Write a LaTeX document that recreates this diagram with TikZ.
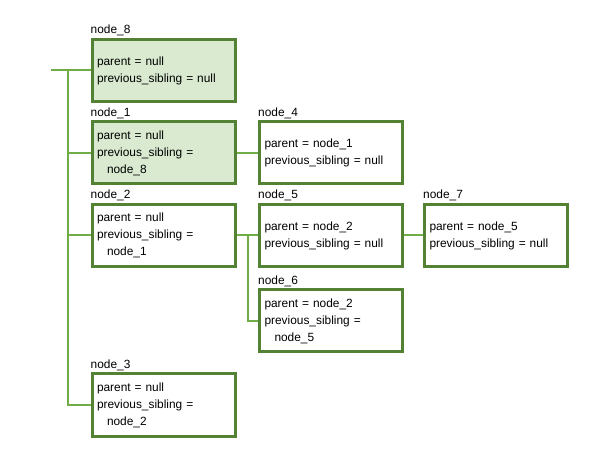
\documentclass[tikz,border=0pt]{standalone}
\usepackage{fontspec}
\setmainfont{Liberation Sans}
\begin{document}
\begin{tikzpicture}[x=1pt,y=-1pt,
  box/.style={draw=boxgreen,line width=3pt,fill=white,minimum width=143pt,minimum height=62pt,
    text width=133pt,align=left,inner xsep=5pt,inner ysep=0pt,font=\fontsize{11.9}{17}\selectfont,
    label={[anchor=south west,inner sep=0pt,yshift=1.5pt,xshift=0pt,font=\fontsize{11.9}{14}\selectfont]north west:#1}},
  filled/.style={fill=fillgreen},
  conn/.style={draw=linegreen,line width=2pt}]
\definecolor{boxgreen}{HTML}{548235}
\definecolor{linegreen}{HTML}{70AD47}
\definecolor{fillgreen}{HTML}{D9EAD0}
\useasboundingbox (0,0) rectangle (600,462);
\fill[white] (0,0) rectangle (600,462);
\node[box=node\_8,filled] (n8) at (163.5,70.5) {parent = null\\previous\_sibling = null};
\node[box=node\_1,filled] (n1) at (163.5,153) {parent = null\\previous\_sibling =\\\hspace*{10pt}node\_8};
\node[box=node\_4] (n4) at (331,153) {parent = node\_1\\previous\_sibling = null};
\node[box=node\_2] (n2) at (163.5,235.5) {parent = null\\previous\_sibling =\\\hspace*{10pt}node\_1};
\node[box=node\_5] (n5) at (331,235.5) {parent = node\_2\\previous\_sibling = null};
\node[box=node\_7] (n7) at (496,235.5) {parent = node\_5\\previous\_sibling = null};
\node[box=node\_6] (n6) at (331,321) {parent = node\_2\\previous\_sibling =\\\hspace*{10pt}node\_5};
\node[box=node\_3] (n3) at (163.5,405) {parent = null\\previous\_sibling =\\\hspace*{10pt}node\_2};
\coordinate (start) at (51,70.5);
\coordinate (trunk) at (68,70.5);
\coordinate (fork) at (248,235.5);
\draw[conn] (start) -- (n8.west);
\draw[conn] (trunk) |- (n3.west);
\draw[conn] (trunk |- n1.west) -- (n1.west);
\draw[conn] (trunk |- n2.west) -- (n2.west);
\draw[conn] (n1.east) -- (n4.west);
\draw[conn] (n2.east) -- (n5.west);
\draw[conn] (fork) |- (n6.west);
\draw[conn] (n5.east) -- (n7.west);
\end{tikzpicture}
\end{document}
